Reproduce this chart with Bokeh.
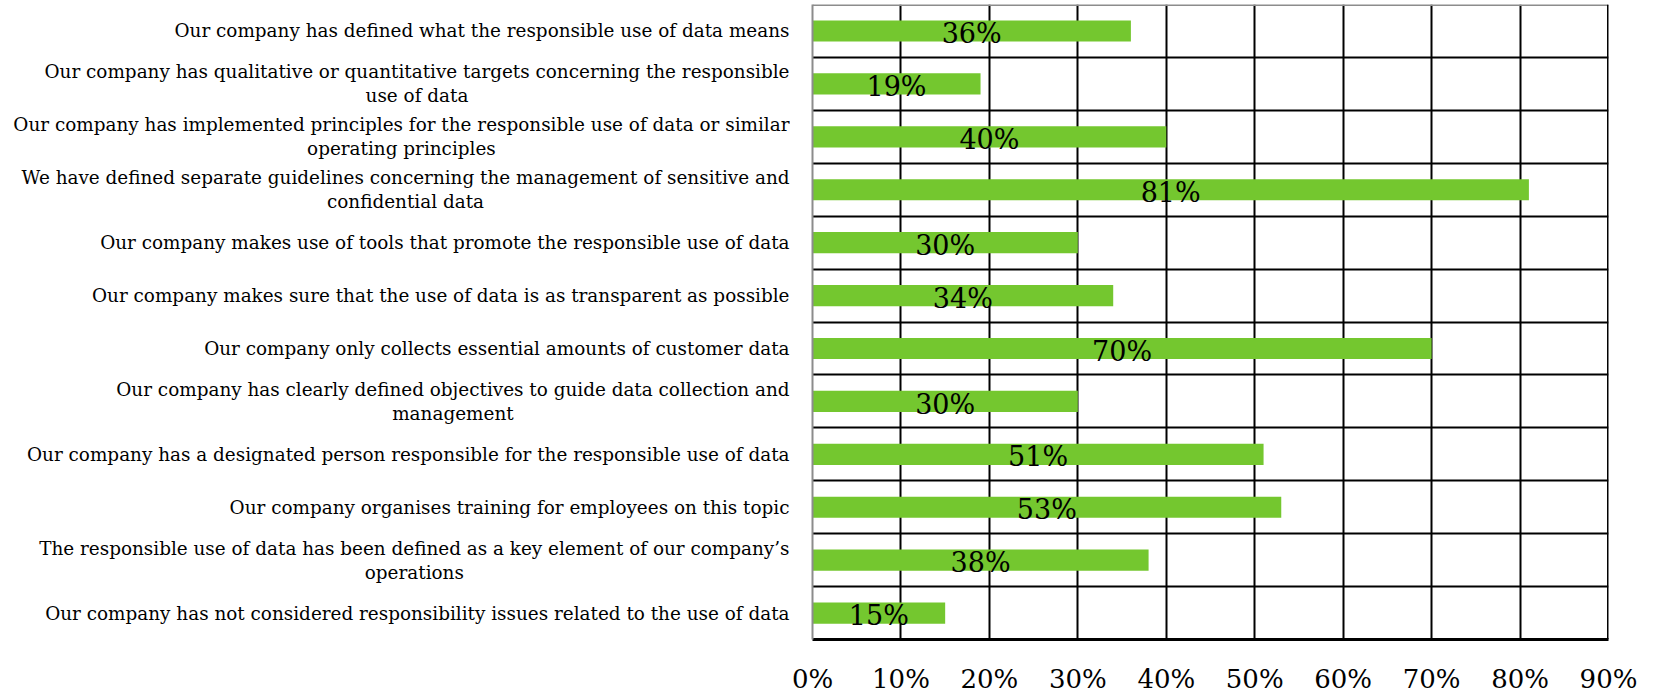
import glob
import subprocess
from bokeh.plotting import figure
from bokeh.layouts import row
from bokeh.models import Range1d, FixedTicker, Span, ColumnDataSource
from bokeh.core.properties import value
from bokeh.embed import file_html
from bokeh.resources import INLINE

categories = [
    "Our company has defined what the responsible use of data means",
    "Our company has qualitative or quantitative targets concerning the responsible\nuse of data",
    "Our company has implemented principles for the responsible use of data or similar\noperating principles",
    "We have defined separate guidelines concerning the management of sensitive and\nconfidential data",
    "Our company makes use of tools that promote the responsible use of data",
    "Our company makes sure that the use of data is as transparent as possible",
    "Our company only collects essential amounts of customer data",
    "Our company has clearly defined objectives to guide data collection and\nmanagement",
    "Our company has a designated person responsible for the responsible use of data",
    "Our company organises training for employees on this topic",
    "The responsible use of data has been defined as a key element of our company\u2019s\noperations",
    "Our company has not considered responsibility issues related to the use of data",
]
values = [36, 19, 40, 81, 30, 34, 70, 30, 51, 53, 38, 15]
x_ticks = [0, 10, 20, 30, 40, 50, 60, 70, 80, 90]
x_tick_labels = ["0%", "10%", "20%", "30%", "40%", "50%", "60%", "70%", "80%", "90%"]

FONT = "DejaVu Serif"
CAT_SIZE = 18.4
GREEN = "#74C72F"

H = 697
TOP = 4
BOTTOM = 58
LEFT_W = 790          # width of the label panel
TEXT_RIGHT = 789      # right edge of category text inside the label panel
CHART_LEFT = 22       # border left of the chart frame (room for the "0%" tick label)
CHART_RIGHT = 40
FRAME_W = 796
LINE_STEP_PX = 12     # half the line spacing of wrapped labels


def find_font_file():
    try:
        out = subprocess.run(["fc-match", "-f", "%{file}", FONT + ":style=Book"],
                             capture_output=True, text=True, timeout=5).stdout.strip()
        if out and "DejaVuSerif" in out:
            return out
    except Exception:
        pass
    hits = glob.glob("/usr/share/fonts/**/DejaVuSerif.ttf", recursive=True)
    return hits[0] if hits else None


def make_measurer():
    try:
        from PIL import ImageFont
        path = find_font_file()
        if path:
            f = ImageFont.truetype(path, CAT_SIZE)
            return lambda s: f.getlength(s)
    except Exception:
        pass
    return lambda s: len(s) * CAT_SIZE * 0.53


measure = make_measurer()

n = len(categories)
y_centers = [n - i - 0.5 for i in range(n)]
px_per_unit = (H - TOP - BOTTOM) / n
step = LINE_STEP_PX / px_per_unit

r_x, r_y, r_text = [], [], []
c_x, c_y, c_text = [], [], []
for y, cat in zip(y_centers, categories):
    lines = cat.split("\n")
    k = len(lines)
    w0 = measure(lines[0])
    for j, line in enumerate(lines):
        yy = y + step * (k - 1) - 2 * step * j
        if j == 0:
            r_x.append(TEXT_RIGHT); r_y.append(yy); r_text.append(line)
        else:
            c_x.append(TEXT_RIGHT - w0 / 2); c_y.append(yy); c_text.append(line)

y_range = Range1d(0, n)

# ---- label panel ----
pl = figure(width=LEFT_W, height=H, output_backend="svg", toolbar_location=None,
            x_range=Range1d(0, LEFT_W), y_range=y_range,
            x_axis_location=None, y_axis_location=None,
            min_border_left=0, min_border_right=0, min_border_top=TOP,
            min_border_bottom=BOTTOM)
pl.outline_line_color = None
pl.grid.visible = False
pl.background_fill_color = "white"
pl.border_fill_color = "white"
pl.text(x=r_x, y=r_y, text=r_text, text_align="right", text_baseline="middle",
        text_font=value(FONT), text_font_size=f"{CAT_SIZE}px", text_color="black")
pl.text(x=c_x, y=c_y, text=c_text, text_align="center", text_baseline="middle",
        text_font=value(FONT), text_font_size=f"{CAT_SIZE}px", text_color="black")

# ---- chart ----
src = ColumnDataSource(dict(
    y=y_centers,
    right=values,
    mid=[v / 2 for v in values],
    ty=[y - 0.05 for y in y_centers],
    label=[f"{v}%" for v in values],
))

p = figure(width=CHART_LEFT + FRAME_W + CHART_RIGHT, height=H, output_backend="svg",
           toolbar_location=None,
           x_range=Range1d(0, x_ticks[-1]), y_range=y_range,
           min_border_left=CHART_LEFT, min_border_right=CHART_RIGHT, min_border_top=TOP,
           min_border_bottom=BOTTOM)
p.outline_line_color = None
p.background_fill_color = "white"
p.border_fill_color = "white"

p.hbar(y="y", left=0, right="right", height=0.4, source=src,
       fill_color=GREEN, line_color=None)
p.text(x="mid", y="ty", text="label", source=src, text_align="center",
       text_baseline="middle", text_font=value(FONT), text_font_size="27px",
       text_color="black")

p.xaxis.ticker = FixedTicker(ticks=x_ticks)
p.xaxis.major_label_overrides = {t: l for t, l in zip(x_ticks, x_tick_labels)}
p.xaxis.major_label_text_font = FONT
p.xaxis.major_label_text_font_size = "26px"
p.xaxis.major_label_text_color = "black"
p.xaxis.major_tick_line_color = None
p.xaxis.minor_tick_line_color = None
p.xaxis.major_label_standoff = 18
p.xaxis.axis_line_color = "black"
p.xaxis.axis_line_width = 3

p.yaxis.ticker = FixedTicker(ticks=[])
p.yaxis.major_label_text_font_size = "0px"
p.yaxis.major_label_standoff = 0
p.yaxis.major_tick_line_color = None
p.yaxis.minor_tick_line_color = None
p.yaxis.axis_line_color = "#8c8c8c"
p.yaxis.axis_line_width = 2

p.xgrid.ticker = FixedTicker(ticks=x_ticks[1:-1])
p.xgrid.grid_line_color = "black"
p.xgrid.grid_line_width = 2
p.ygrid.ticker = FixedTicker(ticks=list(range(1, n)))
p.ygrid.grid_line_color = "black"
p.ygrid.grid_line_width = 2

p.add_layout(Span(location=n, dimension="width", line_color="#8c8c8c", line_width=3))
p.add_layout(Span(location=x_ticks[-1], dimension="height", line_color="black", line_width=3))

layout = row(pl, p, spacing=0)
open("out.html", "w").write(file_html(layout, INLINE))
